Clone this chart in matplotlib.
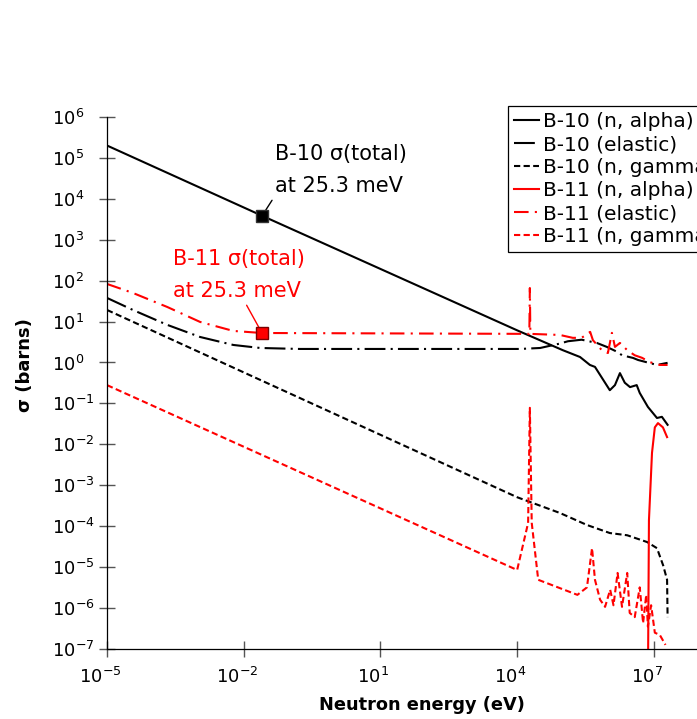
import matplotlib
matplotlib.use("Agg")
import matplotlib.pyplot as plt
import matplotlib.transforms as mtransforms
import numpy as np

plt.rcParams['font.family'] = ['DejaVu Sans']

# energies in eV, cross sections in barns
b10_alpha_E = [1e-5, 0.0253, 1e4, 1e5, 2.4e5, 3.95e5, 5.1e5, 1.08e6, 1.4e6, 1.8e6,
               2.3e6, 3.0e6, 4.2e6, 4.9e6, 7.4e6, 1.17e7, 1.5e7, 2.0e7]
b10_alpha_s = [2.0e5, 3840, 6.1, 2.0, 1.36, 0.87, 0.78, 0.21, 0.28, 0.55,
               0.32, 0.25, 0.28, 0.18, 0.082, 0.044, 0.047, 0.030]

b10_el_E = [1e-5, 3.7e-5, 2.1e-4, 1.1e-3, 5.9e-3, 2.3e-2, 0.17, 1.15e4, 3.2e4, 8.7e4,
            1.3e5, 2.6e5, 5.6e5, 9.3e5, 1.6e6, 2.0e6, 3.5e6, 4.5e6, 1.17e7, 2.0e7]
b10_el_s = [37.8, 19.2, 8.3, 4.2, 2.68, 2.26, 2.14, 2.14, 2.26, 2.9,
            3.3, 3.6, 3.0, 2.4, 1.8, 1.5, 1.29, 1.15, 0.87, 0.98]

b10_g_E = [1e-5, 1e4, 8.7e4, 3.4e5, 1.08e6, 2.6e6, 7.1e6, 1.17e7, 1.6e7, 1.95e7, 2.0e7]
b10_g_s = [19.2, 5.1e-4, 2.1e-4, 1.07e-4, 6.8e-5, 6.0e-5, 4.1e-5, 2.9e-5, 1.1e-5, 4.9e-6, 6e-7]

b11_alpha_E = [7.4e6, 7.8e6, 9.1e6, 1.05e7, 1.23e7, 1.58e7, 1.95e7]
b11_alpha_s = [1e-8, 1.4e-4, 6.2e-3, 2.6e-2, 3.3e-2, 2.6e-2, 1.5e-2]

b11_el_E = [1e-5, 3.7e-5, 2.1e-4, 1.1e-3, 5.9e-3, 2.5e-2, 1.85e4, 1.9e4, 1.95e4, 8.7e4,
            1.66e5, 2.6e5, 4.0e5, 4.6e5, 7.2e5, 9.8e5, 1.2e6, 1.4e6, 1.8e6, 2.6e6,
            3.8e6, 5.5e6, 8.1e6, 1.35e7, 2.0e7]
b11_el_s = [83, 50, 22.7, 9.8, 5.9, 5.25, 5.0, 66, 5.0, 4.7,
            4.0, 4.0, 5.6, 3.5, 2.0, 1.7, 5.3, 2.4, 3.0, 2.0,
            1.5, 1.3, 1.02, 0.87, 0.87]

b11_g_E = [1e-5, 1e4, 1.74e4, 1.9e4, 2.09e4, 2.9e4, 2.1e5, 3.4e5, 4.4e5, 5.1e5,
           6.6e5, 8.5e5, 1.1e6, 1.3e6, 1.6e6, 2.0e6, 2.6e6, 2.95e6, 3.8e6, 4.9e6,
           5.8e6, 6.8e6, 7.4e6, 8.7e6, 1.05e7, 1.35e7, 1.8e7]
b11_g_s = [0.28, 8.5e-6, 1.2e-4, 0.078, 1.2e-4, 4.9e-6, 2.1e-6, 3.2e-6, 2.9e-5, 4.9e-6,
           1.6e-6, 1.07e-6, 2.8e-6, 1.17e-6, 7.2e-6, 1.07e-6, 7.2e-6, 7.6e-7, 6.0e-7, 3.2e-6,
           4.3e-7, 2.1e-6, 3.5e-7, 1.17e-6, 2.5e-7, 2.2e-7, 1.26e-7]

thermal_E = 0.0253
b10_total = 3840
b11_total = 5.2

x_ticks = [1e-5, 1e-2, 1e1, 1e4, 1e7]
y_ticks = [10.0**k for k in range(-7, 7)]

fig = plt.figure(figsize=(6.97, 7.19), dpi=100)
ax = fig.add_axes([0.1535, 0.0974, 0.850, 0.740])

lw = 1.5
ax.plot(b10_alpha_E, b10_alpha_s, color='black', lw=lw, label='B-10 (n, alpha)')
ax.plot(b10_el_E, b10_el_s, color='black', lw=lw, ls=(0, (10, 2.5, 1, 2.5)), label='B-10 (elastic)')
ax.plot(b10_g_E, b10_g_s, color='black', lw=lw, ls=(0, (3, 1.6)), label='B-10 (n, gamma)')
ax.plot(b11_alpha_E, b11_alpha_s, color='red', lw=lw, label='B-11 (n, alpha)')
ax.plot(b11_el_E, b11_el_s, color='red', lw=lw, ls=(0, (7, 3, 1, 3)), label='B-11 (elastic)')
ax.plot(b11_g_E, b11_g_s, color='red', lw=lw, ls=(0, (3, 1.6)), label='B-11 (n, gamma)')

ax.plot([thermal_E], [b10_total], marker='s', ms=9, color='black', mec='#333333', zorder=5)
ax.plot([thermal_E], [b11_total], marker='s', ms=9, color='red', mec='#7a0000', mew=1, zorder=5)

ax.annotate('B-10 σ(total)\nat 25.3 meV', xy=(thermal_E, b10_total),
            xytext=(9, 14), textcoords='offset points', ha='left', va='bottom',
            fontsize=15, linespacing=1.75, color='black',
            arrowprops=dict(arrowstyle='-', color='black', lw=1,
                            relpos=(0, 0), shrinkA=1, shrinkB=5))
ax.annotate('B-11 σ(total)\nat 25.3 meV', xy=(thermal_E, b11_total),
            xytext=(-64, 23), textcoords='offset points', ha='left', va='bottom',
            fontsize=15, linespacing=1.75, color='red',
            arrowprops=dict(arrowstyle='-', color='red', lw=1,
                            relpos=(0.54, 0), shrinkA=1, shrinkB=5))

ax.set_xscale('log')
ax.set_yscale('log')
ax.set_xlim(1e-5, 1e8)
ax.set_ylim(1e-7, 1e6)
ax.set_xticks(x_ticks)
ax.set_yticks(y_ticks)
ax.minorticks_off()
ax.tick_params(direction='inout', length=11, width=1, color='#555555', labelsize=13)
ax.tick_params(axis='x', pad=7.5)
ax.tick_params(axis='y', pad=34)
for lab in ax.get_yticklabels():
    lab.set_ha('left')
shift = mtransforms.ScaledTranslation(-7 / 100, 0, fig.dpi_scale_trans)
for lab in ax.get_xticklabels():
    lab.set_transform(lab.get_transform() + shift)
for s in ['top', 'right']:
    ax.spines[s].set_visible(False)
for s in ['left', 'bottom']:
    ax.spines[s].set_linewidth(0.9)

ax.set_xlabel('Neutron energy (eV)', fontsize=12.8, fontweight='bold')
ax.set_ylabel('σ (barns)', fontsize=13, fontweight='bold')
ax.xaxis.set_label_coords(0.532, -0.089)
ax.yaxis.set_label_coords(-0.123, 0.534)

leg = ax.legend(loc='upper left', bbox_to_anchor=(508 / 697, 1 - 106 / 719),
                bbox_transform=fig.transFigure, fontsize=14.5, frameon=True,
                fancybox=False, framealpha=1, edgecolor='black', handlelength=1.25,
                handletextpad=0.2, labelspacing=0.2, borderpad=0.3, borderaxespad=0)
leg.get_frame().set_linewidth(0.9)

fig.savefig('out.png', dpi=100)
